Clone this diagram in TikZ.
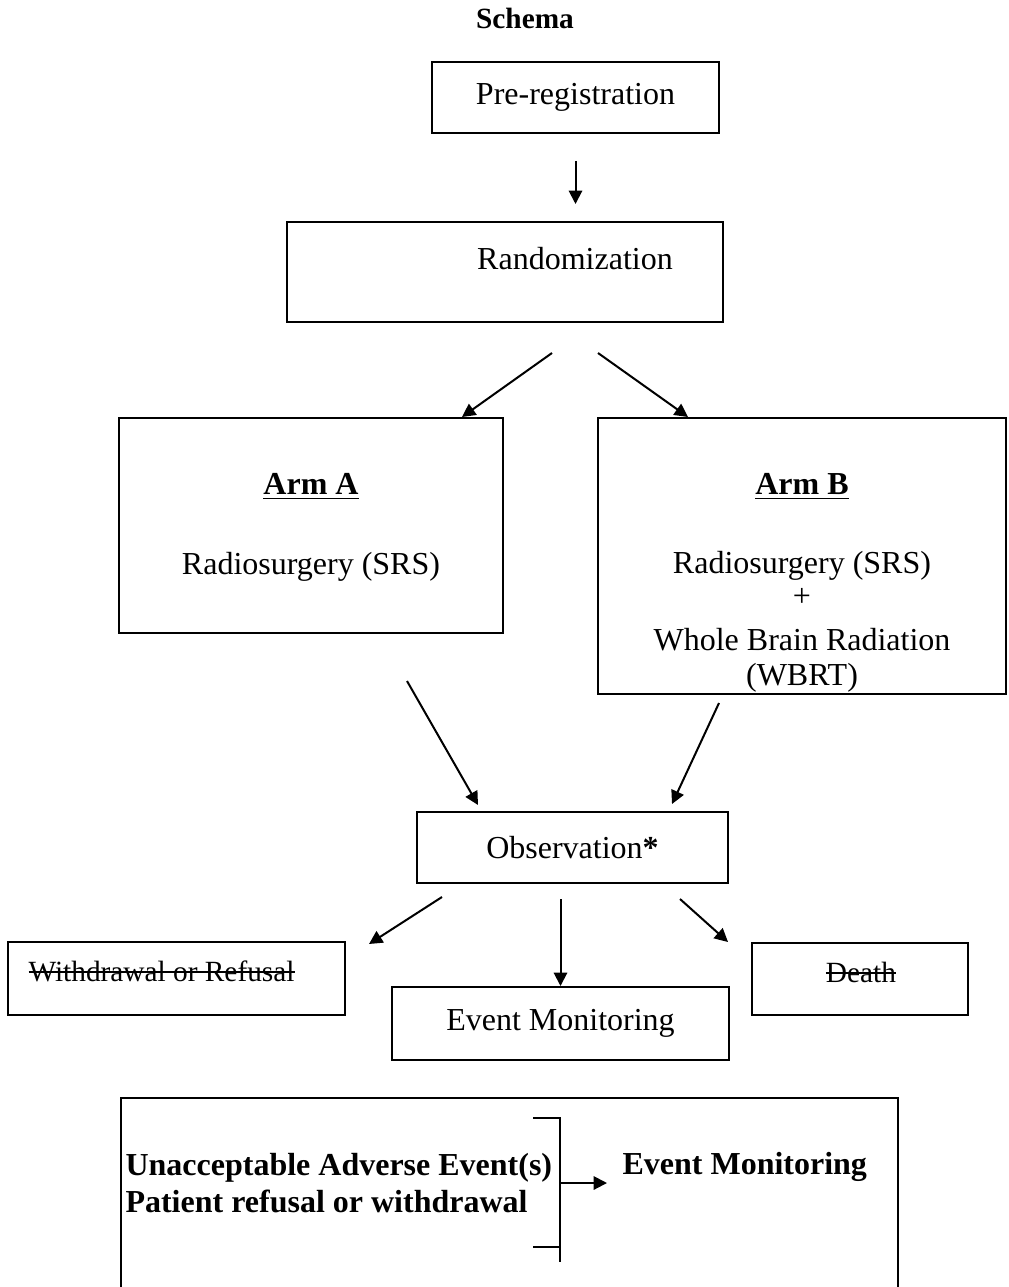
\documentclass[tikz,border=0pt]{standalone}
\usepackage{fontspec}
\setmainfont{Liberation Serif}
\usetikzlibrary{arrows.meta,calc}
\newlength\pxu
\setlength\pxu{0.375pt}
\newsavebox\strikebox
\newcommand\strikeout[1]{\sbox\strikebox{#1}\rlap{\rule[0.28em]{\wd\strikebox}{0.7pt}}\usebox\strikebox}

\begin{document}
\begin{tikzpicture}[x=\pxu,y=-\pxu,
  box/.style={draw,line width=0.75pt,inner sep=0pt},
  flow/.style={line width=0.75pt,-{Triangle[length=5pt,width=5pt]}},
  font=\fontsize{12}{13.8}\selectfont]

  \useasboundingbox (0,0) rectangle (1008,1287);

  % title
  \node[font=\fontsize{11}{13}\selectfont\bfseries] (title) at (525,18) {Schema};

  % registration and randomization
  \node[box,minimum width=287\pxu,minimum height=71\pxu] (pre) at (575.5,97.5) {Pre-registration};
  \node[box,minimum width=436\pxu,minimum height=100\pxu] (rand) at (505,272) {};
  \node (randtxt) at (575,259) {Randomization};

  % the two arms
  \node[box,minimum width=384\pxu,minimum height=215\pxu] (armA) at (311,525.5) {};
  \node (armAhead) at (311,487) {\underline{\textbf{Arm A}}};
  \node (armAtxt) at (311,567) {Radiosurgery (SRS)};

  \node[box,minimum width=408\pxu,minimum height=276\pxu] (armB) at (802,556) {};
  \node (armBhead) at (802,487) {\underline{\textbf{Arm B}}};
  \node[align=center] (armBtxt) at (802,622)
    {Radiosurgery (SRS)\\[-1.4pt] +\\[2.7pt] Whole Brain Radiation\\[-0.7pt] (WBRT)};

  % observation and outcomes
  \node[box,minimum width=311\pxu,minimum height=71\pxu] (obs) at (572.5,847.5) {Observation\textbf{*}};
  \node[box,minimum width=337\pxu,minimum height=73\pxu] (withd) at (176.5,978.5) {};
  \node[anchor=west,inner sep=0pt,font=\fontsize{11}{13}\selectfont] (withdtxt) at (28,971)
    {\strikeout{Withdrawal or Refusal}};
  \node[box,minimum width=216\pxu,minimum height=72\pxu] (death) at (860,979) {};
  \node[font=\fontsize{11}{13}\selectfont] (deathtxt) at (861,972) {\strikeout{Death}};
  \node[box,minimum width=337\pxu,minimum height=73\pxu] (evmon) at (560.5,1023.5) {Event Monitoring};

  % off-study box (runs past the page)
  \node[box,minimum width=777\pxu,minimum height=260\pxu,anchor=north west] (offbox) at (120,1097) {};
  \node[align=left,inner sep=0pt,anchor=west,font=\fontsize{12}{13.9}\selectfont\bfseries] (reasons) at (125,1183)
    {Unacceptable Adverse Event(s)\\ Patient refusal or withdrawal};
  \node[inner sep=0pt,anchor=west,font=\fontsize{12}{13.8}\selectfont\bfseries] (endmon) at (622,1167) {Event Monitoring};
  \draw[line width=0.75pt] (533,1118) -- (560,1118) -- (560,1262);
  \draw[line width=0.75pt] (533,1247) -- (560,1247);
  \coordinate (brk) at (560,1183);
  \coordinate (brkend) at (607,1183);
  \draw[flow] (brk) -- (brkend);

  % arrows
  \draw[flow] ($(pre.south)+(0,27)$) -- ($(pre.south|-rand.north)+(0,-17)$);
  \draw[flow] ($(rand.south)+(47,30)$) -- ($(armA.north)+(151,0)$);
  \draw[flow] ($(rand.south)+(93,30)$) -- ($(armB.north)+(-114,0)$);
  \draw[flow] ($(armA.south)+(96,47)$) -- ($(obs.north)+(-94.5,-6)$);
  \draw[flow] ($(armB.south)+(-83,8)$) -- ($(obs.north)+(99.5,-7)$);
  \draw[flow] ($(obs.south)+(-130.5,13)$) -- ($(withd.north)+(192.5,3)$);
  \draw[flow] ($(evmon.north|-obs.south)+(0,15)$) -- (evmon.north);
  \draw[flow] ($(obs.south)+(107.5,15)$) -- ($(death.north)+(-132,0)$);

\end{tikzpicture}
\end{document}
